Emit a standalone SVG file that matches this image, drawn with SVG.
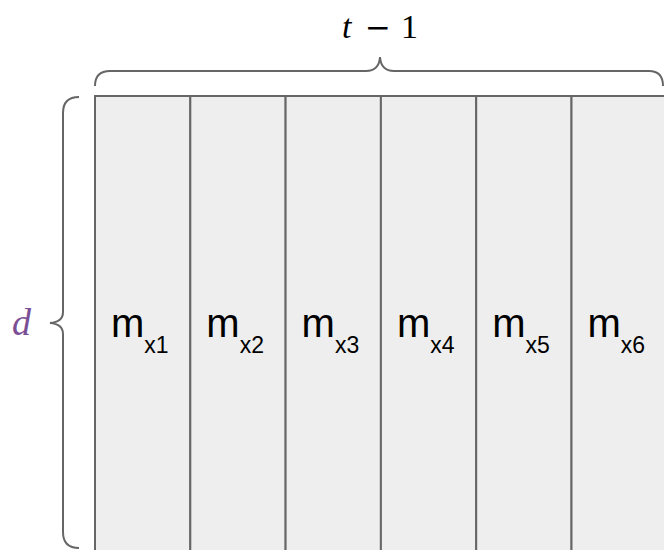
<svg xmlns="http://www.w3.org/2000/svg" width="664" height="550" viewBox="0 0 664 550">
<style>
.col{fill:#eeeeee;stroke:#666666;stroke-width:2}
.brace{fill:none;stroke:#666666;stroke-width:2}
.m{font-family:"Liberation Sans",Arial,sans-serif;font-size:40px;fill:#000}
.sub{font-size:23px}
.math{font-family:"Liberation Serif","Times New Roman",serif;font-size:34px;fill:#000}
.minus{font-family:"DejaVu Serif",serif;font-size:31px;fill:#000}
</style>
<rect width="664" height="550" fill="#ffffff"/>
<g id="col1"><rect class="col" x="95" y="96" width="95.3" height="470"/><text class="m" x="111" y="337">m<tspan class="sub" dy="16">x1</tspan></text></g>
<g id="col2"><rect class="col" x="190.3" y="96" width="95.3" height="470"/><text class="m" x="206.3" y="337">m<tspan class="sub" dy="16">x2</tspan></text></g>
<g id="col3"><rect class="col" x="285.6" y="96" width="95.3" height="470"/><text class="m" x="301.6" y="337">m<tspan class="sub" dy="16">x3</tspan></text></g>
<g id="col4"><rect class="col" x="380.9" y="96" width="95.3" height="470"/><text class="m" x="396.9" y="337">m<tspan class="sub" dy="16">x4</tspan></text></g>
<g id="col5"><rect class="col" x="476.2" y="96" width="95.3" height="470"/><text class="m" x="492.2" y="337">m<tspan class="sub" dy="16">x5</tspan></text></g>
<g id="col6"><rect class="col" x="571.5" y="96" width="95.3" height="470"/><text class="m" x="587.5" y="337">m<tspan class="sub" dy="16">x6</tspan></text></g>
<g id="connectors">
<path class="brace" d="M95,86 Q95,71 110,71 L366,71 Q379,71 380,57 Q381,71 394,71 L649,71 Q663,71 663,86"/>
<path class="brace" d="M79,97 Q63,97 63,113 L63,312 Q63,322 50,323 Q63,324 63,334 L63,532 Q63,548 79,548"/>
</g>
<g id="label-t"><text class="math" x="342" y="38" font-style="italic">t</text><text class="minus" x="365" y="38">−</text><text class="math" x="401" y="38">1</text></g>
<g id="label-d"><text x="12" y="335" style="font-family:'Liberation Serif',serif;font-style:italic;font-size:38px;fill:#7b4f96">d</text></g>
</svg>
